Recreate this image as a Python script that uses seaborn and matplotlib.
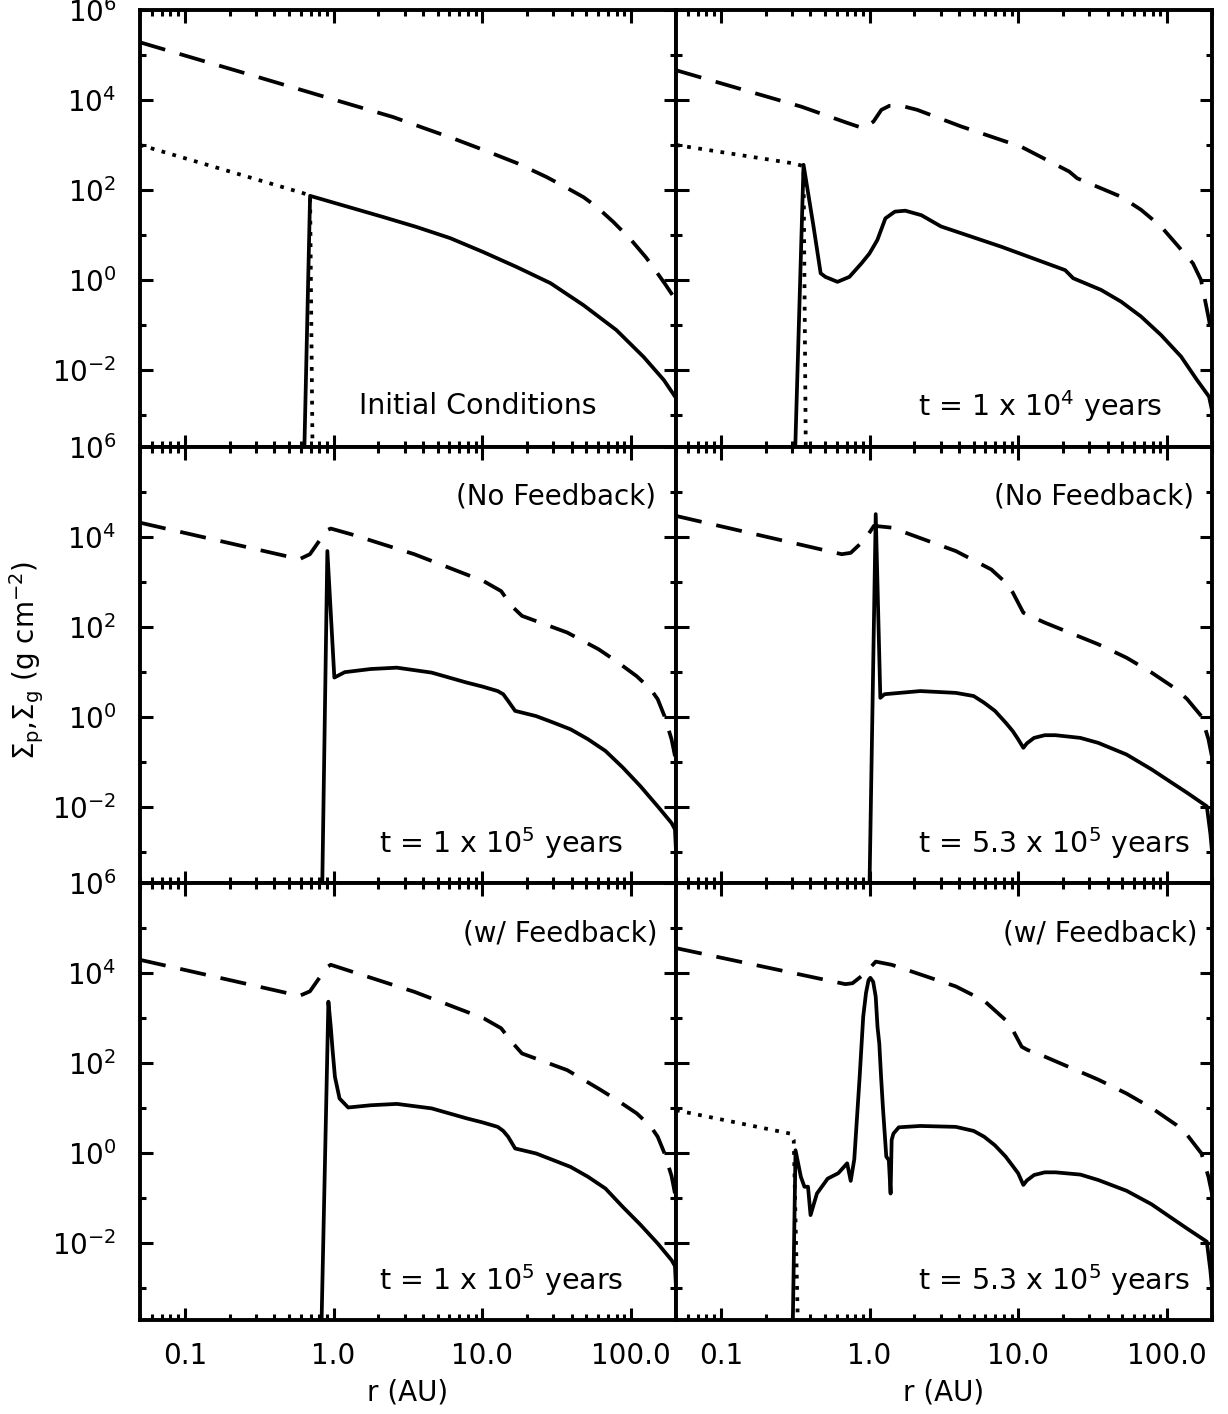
import matplotlib
matplotlib.use("Agg")
import matplotlib.pyplot as plt
import matplotlib.ticker as mticker
import numpy as np
import seaborn as sns

# values, stored as log10(r / AU) and log10(Sigma / g cm^-2)

# ---- panel a: initial conditions ----
gas_lr_a = [-1.301, -0.52, 0.0, 0.40, 0.603, 0.816, 1.007, 1.23, 1.43, 1.566, 1.68,
            1.77, 1.88, 1.997, 2.10, 2.17, 2.23, 2.301]
gas_ls_a = [5.28, 4.52, 4.01, 3.62, 3.38, 3.13, 2.89, 2.60, 2.29, 2.05, 1.84,
            1.62, 1.29, 0.90, 0.50, 0.18, -0.10, -0.45]
sol_lr_a = [-0.205, -0.158, 0.333, 0.556, 0.784, 1.007, 1.23, 1.458, 1.68, 1.90,
            2.084, 2.219, 2.301]
sol_ls_a = [-5, 1.87, 1.40, 1.18, 0.93, 0.62, 0.29, -0.07, -0.56, -1.11,
            -1.71, -2.22, -2.62]
dot_lr_a = [-1.301, -0.205, -0.158, -0.138]
dot_ls_a = [3.0, 1.93, 1.87, -5]

# ---- panel b: t = 1e4 yr ----
gas_lr_b = [-1.301, -0.458, -0.15, -0.042, 0.026, 0.079, 0.133, 0.213, 0.32, 0.616,
            1.019, 1.341, 1.395, 1.690, 1.824, 1.958, 2.066, 2.173, 2.227, 2.281, 2.301]
gas_ls_b = [4.66, 3.85, 3.49, 3.37, 3.52, 3.78, 3.87, 3.87, 3.78, 3.41,
            2.96, 2.41, 2.26, 1.85, 1.56, 1.19, 0.78, 0.37, 0.0, -0.89, -1.3]
sol_lr_b = [-0.511, -0.444, -0.377, -0.329, -0.297, -0.216, -0.136, -0.055, -0.001,
            0.052, 0.106, 0.17, 0.24, 0.348, 0.48, 0.885, 1.314, 1.368, 1.556, 1.690,
            1.824, 1.958, 2.093, 2.200, 2.281, 2.301]
sol_ls_b = [-5, 2.56, 1.19, 0.15, 0.07, -0.04, 0.07, 0.37, 0.59,
            0.89, 1.37, 1.52, 1.54, 1.44, 1.19, 0.74, 0.22, 0.04, -0.22, -0.48,
            -0.81, -1.22, -1.70, -2.22, -2.59, -2.9]
dot_lr_b = [-1.301, -0.511, -0.444, -0.426]
dot_ls_b = [3.0, 2.59, 2.53, -5]

# ---- panel c: t = 1e5 yr, no feedback ----
gas_lr_c = [-1.301, -0.229, -0.159, -0.089, -0.054, -0.019, 0.121, 0.542, 1.009, 1.126,
            1.196, 1.266, 1.570, 1.780, 1.897, 2.037, 2.131, 2.178, 2.224, 2.271, 2.294, 2.301]
gas_ls_c = [4.31, 3.50, 3.61, 3.94, 4.13, 4.18, 4.05, 3.61, 3.01, 2.79,
            2.46, 2.24, 1.87, 1.50, 1.24, 0.90, 0.61, 0.39, 0.01, -0.50, -0.87, -1.0]
sol_lr_c = [-0.082, -0.042, 0.005, 0.075, 0.25, 0.425, 0.659, 0.893, 1.0, 1.103, 1.140,
            1.173, 1.220, 1.360, 1.477, 1.593, 1.710, 1.827, 1.944, 2.061, 2.178, 2.271,
            2.294, 2.301]
sol_ls_c = [-5, 3.68, 0.87, 0.99, 1.06, 1.09, 0.98, 0.76, 0.67, 0.57, 0.50,
            0.35, 0.13, 0.015, -0.13, -0.28, -0.50, -0.76, -1.13, -1.54, -1.99, -2.36,
            -2.50, -3.0]

# ---- panel d: t = 5.3e5 yr, no feedback ----
gas_lr_d = [-1.301, -0.187, -0.127, -0.031, 0.029, 0.148, 0.579, 0.818, 0.914, 0.962,
            1.033, 1.057, 1.177, 1.536, 1.727, 1.895, 2.062, 2.134, 2.23, 2.277, 2.301]
gas_ls_d = [4.46, 3.61, 3.64, 3.94, 4.24, 4.20, 3.68, 3.27, 2.98, 2.76,
            2.31, 2.27, 2.09, 1.61, 1.31, 0.98, 0.61, 0.39, 0.01, -0.50, -0.9]
sol_lr_d = [-0.007, 0.041, 0.072, 0.10, 0.34, 0.579, 0.699, 0.770, 0.842, 0.914, 0.962,
            0.998, 1.033, 1.057, 1.105, 1.177, 1.249, 1.416, 1.536, 1.727, 1.895, 2.014,
            2.134, 2.266, 2.29, 2.301]
sol_ls_d = [-5, 4.50, 0.42, 0.50, 0.57, 0.53, 0.46, 0.31, 0.13, -0.13, -0.32,
            -0.50, -0.69, -0.59, -0.47, -0.41, -0.41, -0.47, -0.58, -0.84, -1.17, -1.43,
            -1.69, -1.99, -2.6, -3.0]

# ---- panel e: t = 1e5 yr, with feedback ----
gas_lr_e = [-1.301, -0.229, -0.159, -0.089, -0.054, -0.019, 0.121, 0.542, 1.009, 1.126,
            1.196, 1.266, 1.570, 1.780, 1.897, 2.037, 2.131, 2.178, 2.224, 2.271, 2.294, 2.301]
gas_ls_e = [4.30, 3.50, 3.60, 3.93, 4.12, 4.19, 4.04, 3.59, 3.00, 2.78,
            2.48, 2.22, 1.85, 1.44, 1.20, 0.89, 0.60, 0.37, 0.0, -0.50, -0.89, -1.0]
sol_lr_e = [-0.089, -0.035, -0.019, -0.007, 0.009, 0.040, 0.098, 0.25, 0.425, 0.659,
            0.893, 1.0, 1.103, 1.140, 1.173, 1.220, 1.360, 1.477, 1.593, 1.710, 1.827,
            1.944, 2.061, 2.178, 2.271, 2.294, 2.301]
sol_ls_e = [-5, 3.37, 2.81, 2.30, 1.70, 1.22, 1.02, 1.07, 1.10, 1.00,
            0.78, 0.69, 0.59, 0.50, 0.37, 0.11, 0.0, -0.15, -0.30, -0.52, -0.78,
            -1.19, -1.58, -2.0, -2.37, -2.5, -3.0]

# ---- panel f: t = 5.3e5 yr, with feedback ----
gas_lr_f = [-1.301, -0.163, -0.115, -0.031, 0.041, 0.148, 0.579, 0.770, 0.938, 1.022,
            1.06, 1.177, 1.536, 1.727, 1.895, 2.062, 2.134, 2.23, 2.277, 2.301]
gas_ls_f = [4.56, 3.76, 3.78, 4.0, 4.26, 4.19, 3.71, 3.39, 2.89, 2.37,
            2.30, 2.15, 1.64, 1.33, 1.01, 0.63, 0.41, 0.0, -0.52, -0.9]
sol_lr_f = [-0.522, -0.498, -0.462, -0.438, -0.414, -0.397, -0.354, -0.282, -0.211,
            -0.151, -0.127, -0.103, -0.067, -0.043, -0.024, -0.007, 0.005, 0.024, 0.041,
            0.053, 0.065, 0.077, 0.089, 0.112, 0.129, 0.141, 0.148, 0.160, 0.196, 0.34,
            0.579, 0.699, 0.770, 0.842, 0.914, 0.962, 0.998, 1.033, 1.057, 1.105, 1.177,
            1.249, 1.416, 1.536, 1.727, 1.895, 2.014, 2.134, 2.266, 2.29, 2.301]
sol_ls_f = [-5, 0.07, -0.52, -0.74, -0.74, -1.37, -0.89, -0.56, -0.44,
            -0.22, -0.61, -0.13, 1.70, 3.04, 3.57, 3.85, 3.90, 3.81, 3.48,
            2.81, 2.44, 1.70, 1.04, -0.07, -0.15, -0.89, 0.30, 0.44, 0.58, 0.61,
            0.59, 0.50, 0.37, 0.18, -0.07, -0.28, -0.44, -0.70, -0.60, -0.48, -0.42,
            -0.42, -0.47, -0.59, -0.83, -1.13, -1.40, -1.67, -1.96, -2.6, -3.0]
dot_lr_f = [-1.301, -0.533, -0.51, -0.474]
dot_ls_f = [0.96, 0.44, 0.30, -5]

x_ticks = [0.1, 1.0, 10.0, 100.0]
x_tick_labels = ["0.1", "1.0", "10.0", "100.0"]
y_ticks = [1e-2, 1e0, 1e2, 1e4, 1e6]
y_minor = [1e-3, 1e-1, 1e1, 1e3, 1e5]

panels = [
    dict(gas=(gas_lr_a, gas_ls_a), sol=(sol_lr_a, sol_ls_a), dot=(dot_lr_a, dot_ls_a),
         top=None, bot="Initial Conditions", bx=0.852),
    dict(gas=(gas_lr_b, gas_ls_b), sol=(sol_lr_b, sol_ls_b), dot=(dot_lr_b, dot_ls_b),
         top=None, bot="t = 1 x 10$^{4}$ years", bx=0.907),
    dict(gas=(gas_lr_c, gas_ls_c), sol=(sol_lr_c, sol_ls_c), dot=None,
         top="(No Feedback)", tx=0.963, bot="t = 1 x 10$^{5}$ years", bx=0.901),
    dict(gas=(gas_lr_d, gas_ls_d), sol=(sol_lr_d, sol_ls_d), dot=None,
         top="(No Feedback)", tx=0.966, bot="t = 5.3 x 10$^{5}$ years", bx=0.959),
    dict(gas=(gas_lr_e, gas_ls_e), sol=(sol_lr_e, sol_ls_e), dot=None,
         top="(w/ Feedback)", tx=0.966, bot="t = 1 x 10$^{5}$ years", bx=0.901),
    dict(gas=(gas_lr_f, gas_ls_f), sol=(sol_lr_f, sol_ls_f), dot=(dot_lr_f, dot_ls_f),
         top="(w/ Feedback)", tx=0.972, bot="t = 5.3 x 10$^{5}$ years", bx=0.959),
]

sns.set_style("ticks")
plt.rcParams['font.family'] = ['DejaVu Sans']
plt.rcParams['mathtext.fontset'] = 'dejavusans'
plt.rcParams['axes.linewidth'] = 2.8
for key in ['axes.edgecolor', 'xtick.color', 'ytick.color', 'text.color', 'axes.labelcolor']:
    plt.rcParams[key] = 'black'

fig, axes = plt.subplots(3, 2, figsize=(12.28, 14.14), dpi=100, sharex=True, sharey=True)
fig.subplots_adjust(left=0.114, right=0.987, top=0.993, bottom=0.0665, wspace=0, hspace=0)


def draw(ax, pair, style):
    lr, ls = pair
    sns.lineplot(x=10 ** np.array(lr), y=10 ** np.array(ls), ax=ax, color='k', lw=2.7,
                 linestyle=style, sort=False, estimator=None)


for ax, p in zip(axes.flat, panels):
    ax.set_xscale('log')
    ax.set_yscale('log')
    draw(ax, p['gas'], (0, (7, 4)))
    if p['dot'] is not None:
        draw(ax, p['dot'], (0, (1, 2.0)))
    draw(ax, p['sol'], '-')
    ax.set_xlim(0.05, 200)
    ax.set_ylim(2e-4, 1e6)
    if p['top']:
        ax.text(p['tx'], 0.886, p['top'], transform=ax.transAxes, ha='right',
                va='center', fontsize=20)
    ax.text(p['bx'], 0.092, p['bot'], transform=ax.transAxes, ha='right',
            va='center', fontsize=20.5)
    ax.yaxis.set_major_locator(mticker.FixedLocator(y_ticks))
    ax.yaxis.set_minor_locator(mticker.FixedLocator(y_minor))
    ax.yaxis.set_major_formatter(mticker.LogFormatterMathtext())
    ax.yaxis.set_minor_formatter(mticker.NullFormatter())
    ax.xaxis.set_major_locator(mticker.FixedLocator(x_ticks))
    ax.xaxis.set_major_formatter(mticker.FixedFormatter(x_tick_labels))
    ax.xaxis.set_minor_locator(mticker.LogLocator(base=10, subs=range(2, 10), numticks=20))
    ax.xaxis.set_minor_formatter(mticker.NullFormatter())
    ax.tick_params(which='both', direction='in', top=True, right=True, width=2.2)
    ax.tick_params(which='major', length=9, labelsize=20)
    ax.tick_params(which='minor', length=4.5)
    ax.tick_params(axis='x', which='major', pad=16)
    ax.tick_params(axis='y', which='major', pad=17)
    ax.set_xlabel('')
    ax.set_ylabel('')

for ax in axes[2]:
    ax.set_xlabel('r (AU)', fontsize=20, labelpad=6)

fig.text(0.022, 0.533, r'$\Sigma_{\rm p}$,$\Sigma_{\rm g}$ (g cm$^{-2}$)',
         rotation=90, ha='center', va='center', fontsize=20)

fig.savefig('out.png', dpi=100)
